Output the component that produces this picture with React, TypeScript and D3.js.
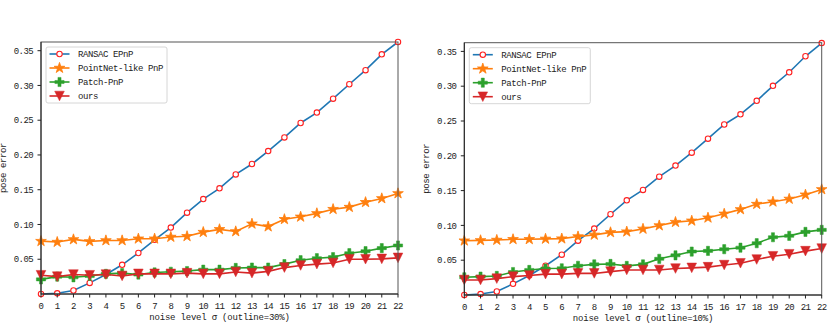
import React from "react"
import * as d3 from "d3"

// noise level sigma, 0..22
const sigmas = d3.range(0, 23)
const yTicks = [0.05, 0.1, 0.15, 0.2, 0.25, 0.3, 0.35]
const yTickLabels = ["0.05", "0.10", "0.15", "0.20", "0.25", "0.30", "0.35"]
const seriesNames = ["RANSAC EPnP", "PointNet-like PnP", "Patch-PnP", "ours"]

// outline = 30%
const ransac30 = [0.0, 0.001, 0.005, 0.016, 0.028, 0.042, 0.059, 0.078, 0.0955, 0.117, 0.1365, 0.152,
  0.172, 0.187, 0.2056, 0.2253, 0.246, 0.261, 0.281, 0.3017, 0.322, 0.3447, 0.3625]
const pointnet30 = [0.076, 0.0747, 0.0785, 0.0757, 0.077, 0.077, 0.0795, 0.0795, 0.082, 0.083, 0.089, 0.093,
  0.09, 0.101, 0.097, 0.1075, 0.111, 0.116, 0.122, 0.125, 0.132, 0.1375, 0.1447]
const patch30 = [0.021, 0.025, 0.024, 0.026, 0.029, 0.03, 0.028, 0.031, 0.032, 0.033, 0.035, 0.035,
  0.0375, 0.038, 0.038, 0.043, 0.0486, 0.0515, 0.053, 0.0587, 0.0616, 0.066, 0.0698]
const ours30 = [0.027, 0.025, 0.028, 0.027, 0.028, 0.026, 0.029, 0.029, 0.029, 0.03, 0.029, 0.029,
  0.0317, 0.03, 0.0326, 0.038, 0.041, 0.043, 0.0447, 0.05, 0.05, 0.0505, 0.052]

// outline = 10%
const ransac10 = [0.0, 0.0014, 0.005, 0.016, 0.028, 0.042, 0.058, 0.078, 0.0955, 0.116, 0.136, 0.151,
  0.17, 0.186, 0.2045, 0.2246, 0.245, 0.2596, 0.279, 0.3005, 0.32, 0.343, 0.362]
const pointnet10 = [0.078, 0.0785, 0.079, 0.08, 0.08, 0.0806, 0.081, 0.084, 0.0864, 0.09, 0.091, 0.095,
  0.0998, 0.1047, 0.1066, 0.111, 0.1166, 0.123, 0.1306, 0.134, 0.138, 0.144, 0.1517]
const patch10 = [0.0255, 0.0264, 0.0274, 0.033, 0.036, 0.038, 0.0384, 0.042, 0.044, 0.0446, 0.0418, 0.044,
  0.052, 0.057, 0.0624, 0.0634, 0.0658, 0.068, 0.0744, 0.083, 0.085, 0.0907, 0.0936]
const ours10 = [0.0216, 0.0216, 0.0235, 0.0264, 0.028, 0.03, 0.03, 0.031, 0.031, 0.0336, 0.036, 0.036,
  0.036, 0.038, 0.039, 0.04, 0.043, 0.0456, 0.051, 0.0557, 0.0586, 0.063, 0.0667]

const FONT = "'Liberation Mono', 'DejaVu Sans Mono', monospace"
const lineColors = ["#1f77b4", "#ff7f0e", "#2ca02c", "#d62728"]

function starPath(R: number) {
  const r = R * 0.382
  let p = ""
  for (let i = 0; i < 10; i++) {
    const a = -Math.PI / 2 + (i * Math.PI) / 5
    const rr = i % 2 === 0 ? R : r
    p += (i === 0 ? "M" : "L") + (rr * Math.cos(a)).toFixed(2) + "," + (rr * Math.sin(a)).toFixed(2)
  }
  return p + "Z"
}
function plusPath(s: number) {
  const w = s / 3
  return `M${-w},${-s}L${w},${-s}L${w},${-w}L${s},${-w}L${s},${w}L${w},${w}L${w},${s}L${-w},${s}L${-w},${w}L${-s},${w}L${-s},${-w}L${-w},${-w}Z`
}
function triDownPath(s: number) {
  return `M0,${s}L${-s},${-s}L${s},${-s}Z`
}

function Marker({ kind, x, y }: { kind: number; x: number; y: number }) {
  if (kind === 0)
    return <circle cx={x} cy={y} r={2.7} fill="white" stroke="#ff2020" strokeWidth={1.1} />
  if (kind === 1)
    return <path d={starPath(5.6)} transform={`translate(${x},${y})`} fill="#ff7f0e" stroke="#ff7f0e" strokeWidth={0.8} />
  if (kind === 2)
    return <path d={plusPath(4.6)} transform={`translate(${x},${y})`} fill="#2ca02c" stroke="#2ca02c" strokeWidth={0.5} />
  return <path d={triDownPath(4.8)} transform={`translate(${x},${y})`} fill="#d62728" stroke="#d62728" strokeWidth={0.5} />
}

function Panel({ left, right, top, bottom, series, xLabel }: any) {
  const x = d3.scaleLinear().domain([0, 22]).range([left, right])
  const y = d3.scaleLinear().domain([0, 0.3625]).range([bottom, top])
  const line = d3.line<number>().x((d, i) => x(sigmas[i])).y(d => y(d))

  return (
    <g>
      {series.map((s: number[], k: number) => (
        <g key={k}>
          <path d={line(s) || ""} fill="none" stroke={lineColors[k]} strokeWidth={1.6} />
          {s.map((v, i) => <Marker key={i} kind={k} x={x(sigmas[i])} y={y(v)} />)}
        </g>
      ))}
      {/* frame */}
      <rect x={left} y={top} width={right - left} height={bottom - top} fill="none" stroke="#555" strokeWidth={1} />
      <line x1={left} x2={left} y1={top} y2={bottom} stroke="#222" />
      <line x1={left} x2={right} y1={bottom} y2={bottom} stroke="#222" />
      {/* x ticks */}
      {sigmas.map(t => (
        <g key={t}>
          <line x1={x(t)} x2={x(t)} y1={bottom} y2={bottom + 3.5} stroke="#222" />
          <text x={x(t)} y={bottom + 15} textAnchor="middle" fontSize={9} letterSpacing={-0.6}
            fontFamily={FONT} fill="#222">{t}</text>
        </g>
      ))}
      {/* y ticks */}
      {yTicks.map((t, i) => (
        <g key={t}>
          <line x1={left - 3.5} x2={left} y1={y(t)} y2={y(t)} stroke="#222" />
          <text x={left - 8} y={y(t) + 3.2} textAnchor="end" fontSize={9} letterSpacing={-0.6}
            fontFamily={FONT} fill="#222">{yTickLabels[i]}</text>
        </g>
      ))}
      <text x={(left + right) / 2} y={bottom + 26} textAnchor="middle" fontSize={9} letterSpacing={-0.2}
        fontFamily={FONT} fill="#222">{xLabel}</text>
      <text transform={`translate(${left - 35},${(top + bottom) / 2}) rotate(-90)`} textAnchor="middle"
        fontSize={9} letterSpacing={-0.4} fontFamily={FONT} fill="#222">pose error</text>
      {/* legend */}
      <g transform={`translate(${left + 5},${top + 5})`}>
        <rect x={0} y={0} width={121} height={56} rx={2} fill="white" fillOpacity={0.85} stroke="#ccc" strokeWidth={0.8} />
        {seriesNames.map((n, k) => (
          <g key={n} transform={`translate(0,${7 + k * 14})`}>
            <line x1={3.5} x2={23.5} y1={0} y2={0} stroke={lineColors[k]} strokeWidth={1.6} />
            <Marker kind={k} x={13.5} y={0} />
            <text x={32} y={3.3} fontSize={9} letterSpacing={-0.4} fontFamily={FONT} fill="#222">{n}</text>
          </g>
        ))}
      </g>
    </g>
  )
}

export default function App() {
  return (
    <svg width={831} height={333} style={{ position: "absolute", left: 0, top: 0, background: "white" }}>
      <Panel left={41} right={398} top={42} bottom={294}
        series={[ransac30, pointnet30, patch30, ours30]} xLabel="noise level σ (outline=30%)" />
      <Panel left={464.3} right={821.7} top={42.7} bottom={295}
        series={[ransac10, pointnet10, patch10, ours10]} xLabel="noise level σ (outline=10%)" />
    </svg>
  )
}
